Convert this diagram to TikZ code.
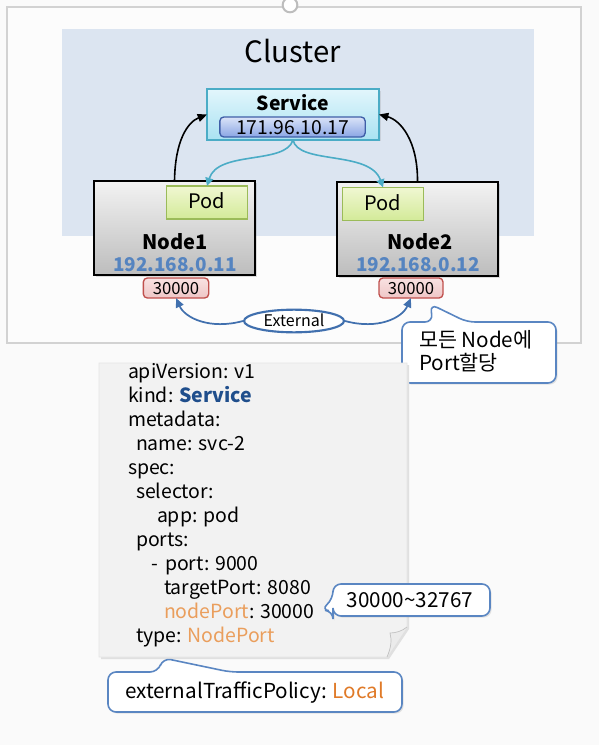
\documentclass[tikz,border=0pt]{standalone}
\usepackage{fontspec}
\setmainfont{Noto Sans CJK KR}
\usetikzlibrary{arrows.meta,shapes.geometric,shadows,calc}
\definecolor{clusterbg}{HTML}{DCE5F1}
\definecolor{framegray}{HTML}{D2D2D2}
\definecolor{svcborder}{HTML}{4BACC6}
\definecolor{svctop}{HTML}{E2F6FC}
\definecolor{svcbot}{HTML}{A9E2F2}
\definecolor{ipborder}{HTML}{3F5FA8}
\definecolor{iptop}{HTML}{DAE3F8}
\definecolor{ipbot}{HTML}{8AA6E4}
\definecolor{podborder}{HTML}{9BBB59}
\definecolor{podtop}{HTML}{F0F7D2}
\definecolor{podbot}{HTML}{D3EA98}
\definecolor{nodeip}{HTML}{5584C0}
\definecolor{portborder}{HTML}{C0504D}
\definecolor{porttop}{HTML}{F9E2E2}
\definecolor{portbot}{HTML}{EFC6C6}
\definecolor{extblue}{HTML}{4170AE}
\definecolor{callblue}{HTML}{5A86C2}
\definecolor{codeblue}{HTML}{1F4E8C}
\definecolor{codeorange}{HTML}{EA9E5C}
\definecolor{localorange}{HTML}{E07A28}
\definecolor{paper}{HTML}{F2F2F2}
\begin{document}
\begin{tikzpicture}[x=0.75pt,y=-0.75pt,
  box/.style={inner sep=0pt, outer sep=0pt},
  svcbox/.style={box, draw=svcborder, line width=1.5pt, top color=svctop, bottom color=svcbot, minimum width=129pt, minimum height=38pt},
  ippill/.style={box, draw=ipborder, line width=1pt, rounded corners=3pt, top color=iptop, bottom color=ipbot, minimum width=109pt, minimum height=15pt},
  nodebox/.style={box, draw=black, line width=1.6pt, top color=white!95!black, bottom color=white!74!black, minimum width=121pt, minimum height=70pt, drop shadow={opacity=0.25,shadow xshift=1.5pt,shadow yshift=-1.5pt}},
  podbox/.style={box, draw=podborder, line width=1.2pt, top color=podtop, bottom color=podbot, minimum width=61pt, minimum height=25pt},
  portbox/.style={box, draw=portborder, line width=1pt, rounded corners=3pt, top color=porttop, bottom color=portbot, minimum width=49pt, minimum height=15pt},
  txt/.style={inner sep=0pt, outer sep=0pt},
  codetxt/.style={txt, anchor=base west, font=\fontsize{14.6pt}{18pt}\selectfont},
  callout/.style={draw=callblue, line width=1.2pt, fill=white, rounded corners=6pt, drop shadow={opacity=0.2,shadow xshift=1.2pt,shadow yshift=-1.2pt}},
  blackarr/.style={-{Triangle[length=7pt,width=6pt]}, line width=1.2pt, black},
  tealarr/.style={-{Triangle[length=6pt,width=6pt]}, line width=1.2pt, svcborder},
  bluearr/.style={-{Triangle[length=7pt,width=6pt]}, line width=1.3pt, extblue}
]
\useasboundingbox (0,0) rectangle (599,745);
\fill[white!98!black] (0,0) rectangle (599,745);
% outer frame
\draw[framegray, line width=2.2pt, fill=white!99!black] (7,7) rectangle (581,343);
\draw[framegray!90!black, line width=1.5pt, fill=white] (290,5) circle (5.5pt);
% cluster
\fill[clusterbg] (62,29) rectangle (534,236);
\node[txt, font=\fontsize{22pt}{26pt}\selectfont] (cluster) at (293,51) {Cluster};
% service
\node[svcbox, drop shadow={opacity=0.2,shadow xshift=1.2pt,shadow yshift=-1.2pt}] (svc) at (293,114.5) {};
\node[txt, font=\bfseries\fontsize{14.5pt}{17pt}\selectfont] (svclabel) at (293,102.5) {Service};
\node[ippill] (svcip) at (292.5,127) {};
\node[txt, font=\fontsize{14.5pt}{17pt}\selectfont] (svciptext) at (292.5,127.5) {171.96.10.17};
% nodes
\node[nodebox] (node1) at (174.5,228) {};
\node[nodebox] (node2) at (417.5,229) {};
\node[podbox] (pod1) at (207,202.5) {};
\node[txt, font=\fontsize{15pt}{18pt}\selectfont] (pod1t) at (207,201) {Pod};
\node[podbox] (pod2) at (383,204) {};
\node[txt, font=\fontsize{15pt}{18pt}\selectfont] (pod2t) at (383,203) {Pod};
\node[txt, font=\bfseries\fontsize{15pt}{18pt}\selectfont] (n1label) at (175,242) {Node1};
\node[txt, text=nodeip, font=\bfseries\fontsize{14.2pt}{18pt}\selectfont] (n1ip) at (175,265) {192.168.0.11};
\node[txt, font=\bfseries\fontsize{15pt}{18pt}\selectfont] (n2label) at (420,242) {Node2};
\node[txt, text=nodeip, font=\bfseries\fontsize{14.2pt}{18pt}\selectfont] (n2ip) at (418,265) {192.168.0.12};
% ports
\node[portbox] (port1) at (176,288) {};
\node[txt, font=\fontsize{12.5pt}{15pt}\selectfont] (port1t) at (176,288.5) {30000};
\node[portbox, minimum width=48pt] (port2) at (411,288) {};
\node[txt, font=\fontsize{12.5pt}{15pt}\selectfont] (port2t) at (411,288.5) {30000};
% external
\node[ellipse, draw=extblue, line width=1.6pt, fill=white, minimum width=75pt, minimum height=17pt, inner sep=0pt] (ext) at (294,321) {};
\node[txt, font=\fontsize{12pt}{15pt}\selectfont] (extt) at (294,320.5) {External};
% arrows
\draw[blackarr] (node1.north) .. controls (175,140) and (188,122) .. (svc.west);
\draw[blackarr] (node2.north) .. controls (418,140) and (400,120) .. (svc.east);
\draw[tealarr] (svc.south) .. controls (286,165) and (218,150) .. (pod1.north);
\draw[tealarr] (svc.south) .. controls (298,165) and (370,150) .. (pod2.north);
\draw[bluearr] (ext.west) .. controls (210,330) and (185,318) .. (port1.south);
\draw[bluearr] (ext.east) .. controls (378,330) and (402,318) .. (port2.south);
% callout 1
\coordinate (c1tip) at (430,304);
\draw[callout] (402,322) -- (433,322) -- (c1tip) -- (467,322) -- (556,322) -- (556,383) -- (402,383) -- cycle;
\node[txt, anchor=base west, font=\fontsize{15.5pt}{18pt}\selectfont] (c1a) at (419,347) {모든 Node에};
\node[txt, anchor=base west, font=\fontsize{15.5pt}{18pt}\selectfont] (c1b) at (419,370) {Port할당};
% paper
\fill[black!12] (101,365) -- (409,365) -- (409,629) -- (389,659) -- (101,659) -- cycle;
\filldraw[fill=paper, draw=black!10, line width=0.5pt] (99,363) -- (407,363) -- (407,627) -- (387,657) -- (99,657) -- cycle;
\filldraw[fill=white!92!black, draw=black!25, line width=0.5pt] (387,657) .. controls (391,648) and (392,640) .. (390,633) .. controls (396,633) and (402,631) .. (407,627);
% code
\node[codetxt] (l1) at (128,378) {apiVersion: v1};
\node[codetxt] (l2) at (128,402) {kind: \textcolor{codeblue}{\bfseries Service}};
\node[codetxt] (l3) at (128,426) {metadata:};
\node[codetxt] (l4) at (136,450) {name: svc-2};
\node[codetxt] (l5) at (128,474) {spec:};
\node[codetxt] (l6) at (136,498) {selector:};
\node[codetxt] (l7) at (157,522) {app: pod};
\node[codetxt] (l8) at (136,546) {ports:};
\node[codetxt] (l9a) at (151,570) {-};
\node[codetxt] (l9) at (165,570) {port: 9000};
\node[codetxt] (l10) at (164,594) {targetPort: 8080};
\node[codetxt] (l11) at (164,618) {\textcolor{codeorange}{nodePort}: 30000};
\node[codetxt] (l12) at (136,642) {type: \textcolor{codeorange}{NodePort}};
% callout 2
\coordinate (c2tip) at (321,610);
\draw[callout] (333,584) -- (490,584) -- (490,616) -- (333,616) -- (333,611) -- (c2tip) -- (333,599) -- cycle;
\node[txt, font=\fontsize{15.5pt}{19pt}\selectfont] (c2t) at (410,600) {30000\char`~32767};
% callout 3
\coordinate (c3tip) at (163,658);
\draw[callout] (108,672) -- (158,672) -- (c3tip) -- (230,672) -- (402,672) -- (402,712) -- (108,712) -- cycle;
\node[txt, anchor=base west, font=\fontsize{15.5pt}{18pt}\selectfont] (c3t) at (125,698) {externalTrafficPolicy: \textcolor{localorange}{Local}};
\end{tikzpicture}
\end{document}
